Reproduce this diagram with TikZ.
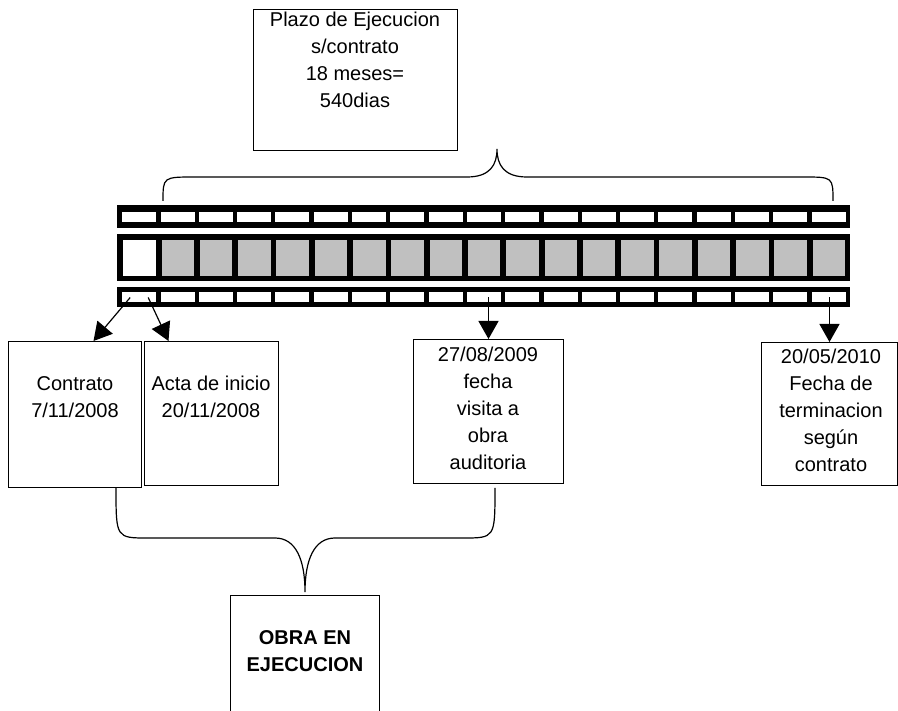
\documentclass[tikz,border=0pt]{standalone}
\usepackage{fontspec}
\setmainfont{Liberation Sans}
\usetikzlibrary{arrows.meta, positioning, calc}
\definecolor{cellgray}{RGB}{192,192,192}
\tikzset{
	boxtext/.style={font=\fontsize{20}{27}\selectfont, align=center, inner sep=0pt}
}

\begin{document}
\begin{tikzpicture}[x=1pt, y=-1pt]

      \tikzset{
        framebox/.style={
            draw=black,
            line width=1pt,
            fill=white,
            inner sep=0pt,
            anchor=north west
          },
        hole/.style={fill=white, inner sep=0pt, minimum width=34pt, minimum height=10pt},
        filmcell/.style={fill=cellgray, inner sep=0pt, minimum width=32.5pt, minimum height=36pt},
        arr/.style={line width=1.2pt, -{Triangle[length=18pt,width=20pt]}},
        brace/.style={line width=1.2pt}
      }

      \useasboundingbox (0,0) rectangle (898,711);

      % film strip
      \fill (117,205) rectangle (850,228);
      \fill (117,234) rectangle (850,281);
      \fill (117,287) rectangle (850,307);
      \foreach \i in {0,...,18} {
        \pgfmathsetmacro{\cx}{123+38.3*\i}
        \node[hole, anchor=west] (t\i) at (\cx-1,217) {};
        \node[filmcell, anchor=west] (m\i) at (\cx,258) {};
        \node[hole, anchor=west] (b\i) at (\cx-1,297.5) {};
      }
      \node[filmcell, fill=white, anchor=west] (m0) at (123,258) {};

      % boxes
      \node[framebox, minimum width=204pt, minimum height=141pt] (plazo) at (253,9) {};
      \node[framebox, minimum width=133pt, minimum height=146pt] (contrato) at (8,341) {};
      \node[framebox, minimum width=134pt, minimum height=144pt] (acta) at (144,341) {};
      \node[framebox, minimum width=150pt, minimum height=144pt] (visita) at (413,339) {};
      \node[framebox, minimum width=136pt, minimum height=143pt] (termina) at (761,342) {};
      \node[framebox, minimum width=149pt, minimum height=118pt] (obra) at (230,595) {};

      \node[boxtext] at (355,60) {Plazo de Ejecucion\\s/contrato\\18 meses=\\540dias};
      \node[boxtext] at (75,397) {Contrato\\7/11/2008};
      \node[boxtext] at (211,397) {Acta de inicio\\20/11/2008};
      \node[boxtext] at (488,408) {27/08/2009\\fecha\\visita a\\obra\\auditoria};
      \node[boxtext] at (831,410) {20/05/2010\\Fecha de\\terminacion\\según\\contrato};
      \node[boxtext, font=\fontsize{20}{27}\selectfont\bfseries] at (305,651.5) {OBRA EN\\EJECUCION};

      % arrows
      \draw[arr] ([xshift=-9pt]b0.center) -- ([xshift=18.5pt]contrato.north);
      \draw[arr] ([xshift=9pt]b0.center) -- ([xshift=-43pt]acta.north);
      \draw[arr] (b9.center -| visita.north) -- (visita.north);
      \draw[arr] (b18.center -| termina.north) -- (termina.north);

      % braces
      \coordinate (tl) at (163,201);
      \coordinate (tr) at (833,201);
      \coordinate (ttip) at (497,149);
      \draw[brace] (tl) .. controls (163,177) .. (195,177) -- (467,177)
        .. controls (490,177) and (497,165) .. (ttip)
        .. controls (497,165) and (504,177) .. (527,177) -- (803,177)
        .. controls (833,177) .. (tr);

      \coordinate (bl) at (116,488);
      \coordinate (br) at (495,488);
      \coordinate (btip) at ([yshift=3pt]obra.north);
      \draw[brace] (bl) .. controls (116,538) .. (148,538) -- (275,538)
        .. controls (296,538) and (305,560) .. (btip)
        .. controls (305,560) and (314,538) .. (335,538) -- (463,538)
        .. controls (495,538) .. (br);
    \end{tikzpicture}
\end{document}
